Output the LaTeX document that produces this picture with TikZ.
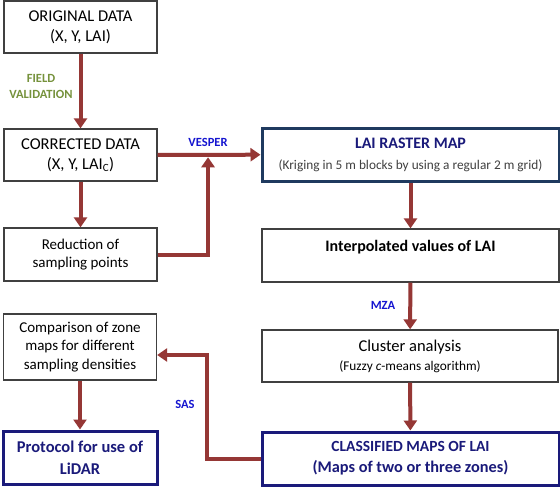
\documentclass[tikz,border=0pt]{standalone}
\usepackage{fontspec}
\setmainfont{Carlito}
\usepackage{xcolor}
\usetikzlibrary{arrows.meta,positioning,calc}

\definecolor{flowred}{HTML}{953735}
\definecolor{boxgray}{HTML}{404040}
\definecolor{rasterblue}{HTML}{1F3A5F}
\definecolor{navy}{HTML}{1A1A7A}
\definecolor{olive}{HTML}{76923C}
\definecolor{tagblue}{HTML}{1515D0}

\tikzset{
  plainbox/.style={draw=boxgray,line width=1.3pt,fill=white,inner sep=0pt,align=center,font=\fontsize{15}{18.5}\selectfont},
  keybox/.style={draw=navy,line width=3pt,fill=white,inner sep=0pt,align=center,text=navy,font=\bfseries\fontsize{15.5}{21}\selectfont},
  flow/.style={draw=flowred,line width=4pt,-{Triangle[width=13pt,length=10pt]}},
  tag/.style={font=\bfseries\fontsize{12.5}{16}\selectfont,align=center}
}

\begin{document}
\begin{tikzpicture}[x=1pt,y=-1pt]
\useasboundingbox[fill=white] (0,0) rectangle (560,487);
% left column
\node (orig) [plainbox,minimum width=153pt,minimum height=52pt,font=\fontsize{16.5}{20}\selectfont] at (80.5,27) {ORIGINAL DATA\\(X, Y, LAI)};
\node (corr) [plainbox,minimum width=153pt,minimum height=52pt,font=\fontsize{16.5}{20}\selectfont] at (80.5,155) {CORRECTED DATA\\(X, Y, LAI$_{\mbox{\fontsize{11}{11}\selectfont C}}$)};
\node (reduc) [plainbox,minimum width=153pt,minimum height=53pt] at (80.5,254.5) {Reduction of\\sampling points};
\node (comp) [plainbox,minimum width=153pt,minimum height=66pt] at (80,347) {Comparison of zone\\maps for different\\sampling densities};
\node (prot) [keybox,minimum width=154pt,minimum height=53pt,font=\bfseries\fontsize{16.5}{22}\selectfont] at (80,457.5) {Protocol for use of\\LiDAR};
% right column
\node (raster) [keybox,draw=rasterblue,minimum width=297pt,minimum height=53pt,font=\bfseries\fontsize{16}{21}\selectfont] at (410.5,154.5) {LAI RASTER MAP\\{\mdseries\color{boxgray}\fontsize{13.3}{17}\selectfont (Kriging in 5 m blocks by using a regular 2 m grid)}};
\node (interp) [plainbox,minimum width=297pt,minimum height=53pt,font=\bfseries\fontsize{16}{19}\selectfont] at (410.5,255.5) {Interpolated values of LAI\\\phantom{X}};
\node (clust) [plainbox,minimum width=296pt,minimum height=52pt,font=\fontsize{16.5}{19}\selectfont] at (410,356) {Cluster analysis\\{\fontsize{13.3}{17}\selectfont (Fuzzy \textit{c}-means algorithm)}};
\node (classif) [keybox,minimum width=297pt,minimum height=53pt] at (410.5,458.5) {CLASSIFIED MAPS OF LAI\\{\fontsize{16.3}{21}\selectfont (Maps of two or three zones)}};

% joins of the bent connectors
\coordinate (vjoin) at ($(corr.east)!0.49!(raster.west)+(0,2.5)$);
\coordinate (sasjoin) at (207,355);

% connectors
\draw[flow] (orig) -- (corr);
\draw[flow] (corr) -- (raster);
\draw[flow] (corr) -- (reduc);
\draw[flow] (reduc.east) -| (vjoin);
\draw[flow] (raster) -- (interp);
\draw[flow] (interp) -- (clust);
\draw[flow] (clust) -- (classif);
\draw[flow] (classif.west) -| (sasjoin) -- (sasjoin -| comp.east);
\draw[flow] (comp) -- (prot);

% labels
\node (fieldtag) [tag,text=olive] at (41,86) {FIELD\\VALIDATION};
\node (vespertag) [tag,text=tagblue] at (208,142) {VESPER};
\node (mzatag) [tag,text=tagblue] at (383,305) {MZA};
\node (sastag) [tag,text=tagblue] at (185,404) {SAS};
\end{tikzpicture}
\end{document}
